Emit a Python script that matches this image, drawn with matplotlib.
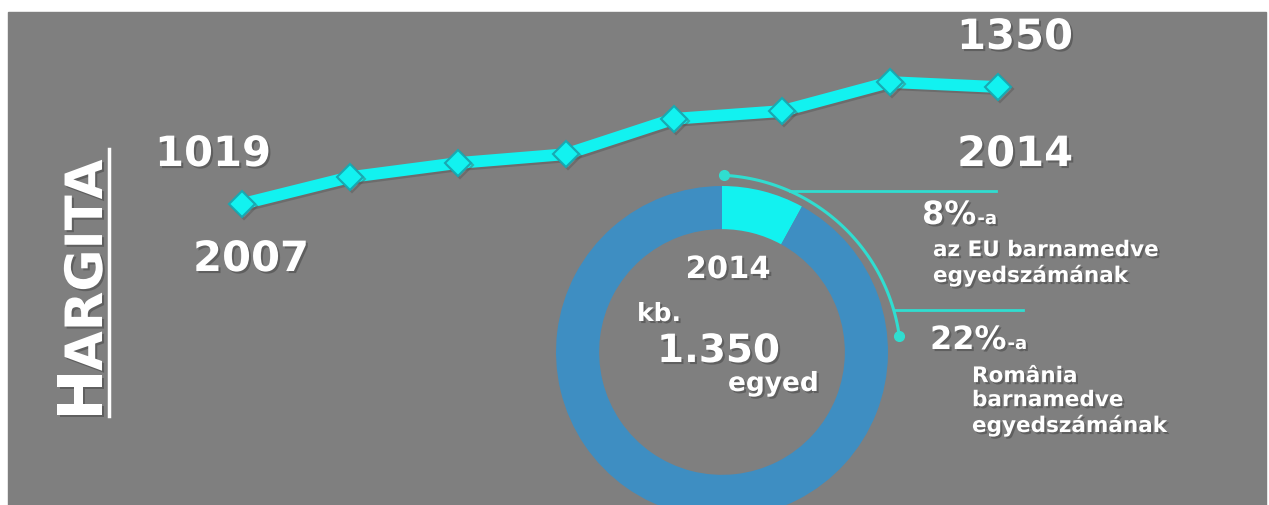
import numpy as np
import matplotlib
matplotlib.use("Agg")
import matplotlib.pyplot as plt
import matplotlib.patheffects as pe
from matplotlib.patches import Rectangle

# data
years = [2007, 2008, 2009, 2010, 2011, 2012, 2013, 2014]
bears = [1019, 1095, 1135, 1160, 1260, 1282, 1364, 1350]
share_eu = [8, 92]

W, H = 1269, 506
BG = '#7f7f7f'
RING = '#3e8ec2'
CYAN = '#12f2f0'
THIN = '#30ddd0'

plt.rcParams['font.family'] = ['DejaVu Sans']
plt.rcParams['font.weight'] = 'bold'

fig = plt.figure(figsize=(W / 100, H / 100), dpi=100)
fig.patch.set_facecolor('white')

def px_axes(zorder):
    a = fig.add_axes([0, 0, 1, 1], zorder=zorder)
    a.set_xlim(0, W)
    a.set_ylim(H, 0)
    a.axis('off')
    a.patch.set_alpha(0)
    return a

ax_bg = px_axes(0)
ax_bg.add_patch(Rectangle((8, 13), 1258, 500, color=BG))

# line chart: 2007 -> px(242,205), 2014 -> px(998,88) for values 1019 / 1350
x0, x1 = 242, 998
y0, y1 = 205, 88
ax_line = fig.add_axes([x0 / W, 1 - y0 / H, (x1 - x0) / W, (y0 - y1) / H], zorder=1)
ax_line.set_xlim(years[0], years[-1])
ax_line.set_ylim(bears[0], bears[-1])
ax_line.axis('off')
ax_line.plot(years, bears, color=CYAN, lw=8.5, marker='D', ms=13,
             mfc=CYAN, mec='#18a9b2', mew=1.5, clip_on=False, solid_capstyle='round',
             path_effects=[pe.SimpleLineShadow(offset=(1.5, -1.5), shadow_color='#505050', alpha=0.4), pe.Normal()])

# donut
cx, cy, r = 722, 353, 166
ax_pie = fig.add_axes([(cx - r) / W, 1 - (cy + r) / H, 2 * r / W, 2 * r / H], zorder=2)
ax_pie.pie(share_eu, startangle=90, counterclock=False, colors=[CYAN, RING],
           wedgeprops=dict(width=0.26, edgecolor='none'))
ax_pie.set_xlim(-1, 1)
ax_pie.set_ylim(-1, 1)
ax_pie.set_aspect('equal', adjustable='box')
ax_pie.axis('off')

# thin callout arc with dots
t = np.radians(np.linspace(87, 8, 100))
ax_pie.plot(-0.048 + 1.127 * np.cos(t), -0.061 + 1.127 * np.sin(t), color=THIN, lw=2.2, clip_on=False)
ax_pie.plot([-0.048 + 1.127 * np.cos(t[0]), -0.048 + 1.127 * np.cos(t[-1])],
            [-0.061 + 1.127 * np.sin(t[0]), -0.061 + 1.127 * np.sin(t[-1])],
            'o', color=THIN, ms=7, clip_on=False)

ax = px_axes(3)
ax.plot([790, 996], [192, 192], color=THIN, lw=2)
ax.plot([895, 1023], [311, 311], color=THIN, lw=2)

shadow = [pe.SimplePatchShadow(offset=(1.5, -1.5), shadow_rgbFace='#404040', alpha=0.5), pe.Normal()]

def txt(x, y, s, size, ha='left', va='baseline', **kw):
    return ax.text(x, y, s, fontsize=size, color='white', fontweight='bold',
                   ha=ha, va=va, path_effects=shadow, **kw)

txt(213, 167, '1019', 30, ha='center')
txt(251, 272, '2007', 30, ha='center')
txt(1015, 50, '1350', 30, ha='center')
txt(1015, 167, '2014', 30, ha='center')

txt(728, 279, '2014', 22, ha='center')
txt(637, 322, 'kb.', 18)
txt(657, 363, '1.350', 28)
txt(728, 392, 'egyed', 19)

renderer = fig.canvas.get_renderer()

def pct(x, y, s):
    big = txt(x, y, s, 23)
    bb = big.get_window_extent(renderer)
    xr = ax.transData.inverted().transform((bb.x1, bb.y0))[0]
    txt(xr + 1, y, '-a', 13)

# multi-line: baseline given for the last line
pct(922, 225, '8%')
txt(933, 283, 'az EU barnamedve\negyedszámának', 15.5, linespacing=1.25)

pct(930, 350, '22%')
txt(972, 433, 'România\nbarnamedve\negyedszámának', 15.5, linespacing=1.25)

# vertical title in small caps style
ax.text(102, 422, 'H', fontsize=44, color='white', fontweight='bold', rotation=90,
        rotation_mode='anchor', ha='left', va='baseline', path_effects=shadow)
ax.text(102, 372, 'ARGITA', fontsize=37, color='white', fontweight='bold', rotation=90,
        rotation_mode='anchor', ha='left', va='baseline', path_effects=shadow)
ax.plot([109, 109], [150, 417], color='white', lw=2.5)

fig.savefig('out.png', dpi=100, facecolor=fig.get_facecolor())
